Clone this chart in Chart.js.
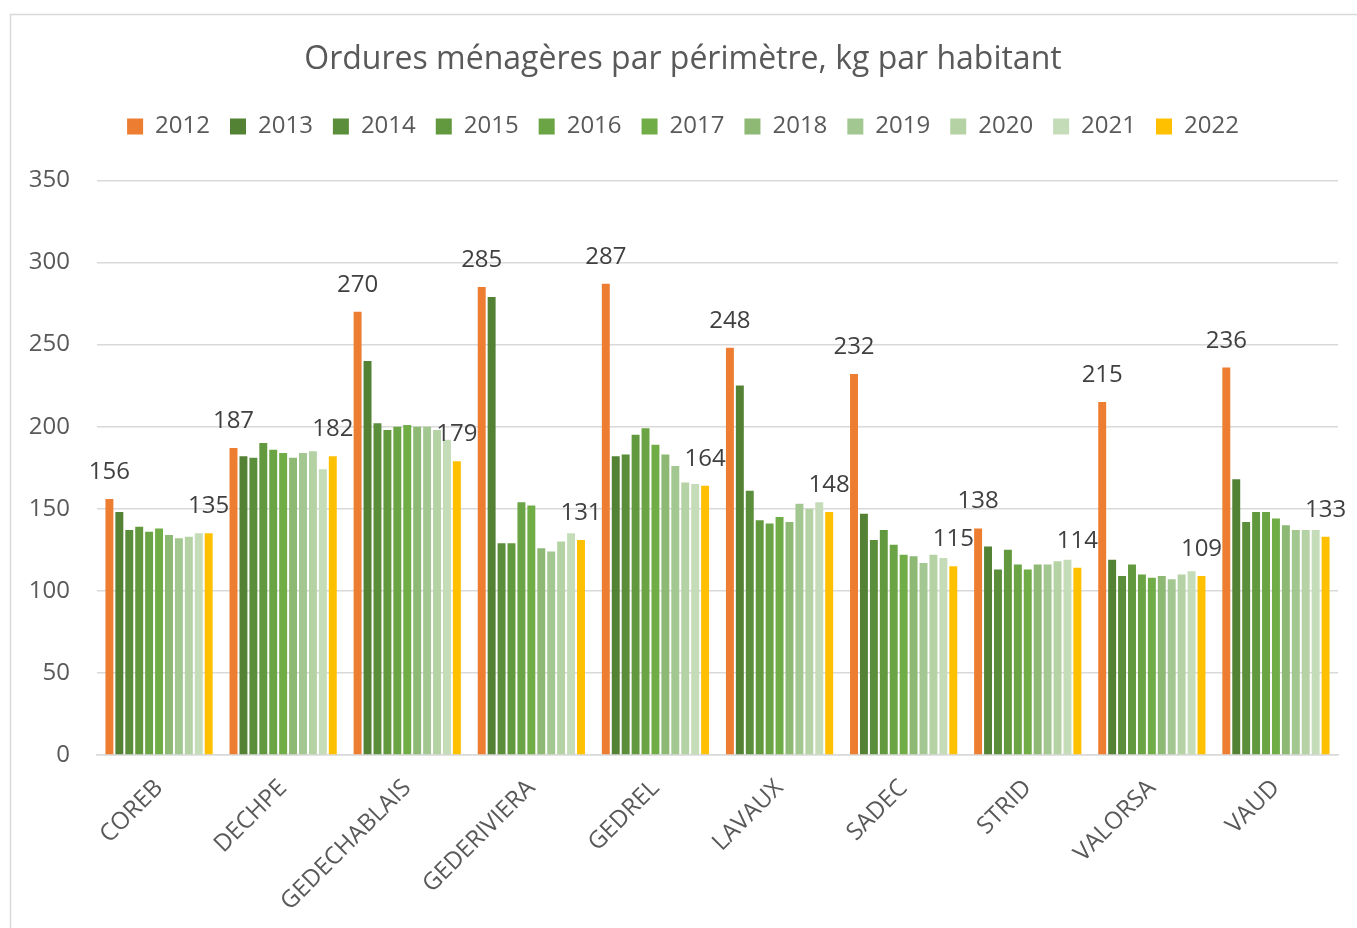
<!DOCTYPE html>
<html>
<head>
<meta charset="utf-8">
<script src="https://cdn.jsdelivr.net/npm/chart.js@4.4.0/dist/chart.umd.min.js"></script>
<style>
  html, body { margin: 0; padding: 0; background: #fff; }
  canvas { display: block; }
</style>
</head>
<body>
<canvas id="chart" width="1357" height="928"></canvas>
<script>
const perimetres = ['COREB', 'DECHPE', 'GEDECHABLAIS', 'GEDERIVIERA', 'GEDREL', 'LAVAUX', 'SADEC', 'STRID', 'VALORSA', 'VAUD']
const years = ['2012', '2013', '2014', '2015', '2016', '2017', '2018', '2019', '2020', '2021', '2022']

const y2012 = [156, 187, 270, 285, 287, 248, 232, 138, 215, 236]
const y2013 = [148, 182, 240, 279, 182, 225, 147, 127, 119, 168]
const y2014 = [137, 181, 202, 129, 183, 161, 131, 113, 109, 142]
const y2015 = [139, 190, 198, 129, 195, 143, 137, 125, 116, 148]
const y2016 = [136, 186, 200, 154, 199, 141, 128, 116, 110, 148]
const y2017 = [138, 184, 201, 152, 189, 145, 122, 113, 108, 144]
const y2018 = [134, 181, 200, 126, 183, 142, 121, 116, 109, 140]
const y2019 = [132, 184, 200, 124, 176, 153, 117, 116, 107, 137]
const y2020 = [133, 185, 198, 130, 166, 150, 122, 118, 110, 137]
const y2021 = [135, 174, 192, 135, 165, 154, 120, 119, 112, 137]
const y2022 = [135, 182, 179, 131, 164, 148, 115, 114, 109, 133]

const yTicks = [0, 50, 100, 150, 200, 250, 300, 350]

const seriesValues = [y2012, y2013, y2014, y2015, y2016, y2017, y2018, y2019, y2020, y2021, y2022]
const colors = ['#ED7D31', '#548235', '#5B8E3A', '#63993E', '#6AA444', '#70AD47',
                '#8DB974', '#A2C791', '#B5D2A5', '#C5DCB9', '#FFC000']
// only first and last year get a value label
const labelledSeries = [0, 10]

const FONT = '"Open Sans", "Noto Sans", sans-serif'
const GREY = '#595959'

const frame = {
    id: 'frame',
    beforeDraw(chart) {
        const { ctx } = chart
        ctx.save()
        ctx.strokeStyle = '#d9d9d9'
        ctx.lineWidth = 1.5
        ctx.strokeRect(10.5, 14.5, 1400, 960)
        ctx.restore()
    }
}

const valueLabels = {
    id: 'valueLabels',
    afterDatasetsDraw(chart) {
        const { ctx } = chart
        ctx.save()
        ctx.font = '24px ' + FONT
        ctx.fillStyle = '#404040'
        ctx.textAlign = 'center'
        ctx.textBaseline = 'alphabetic'
        for (const i of labelledSeries) {
            const meta = chart.getDatasetMeta(i)
            meta.data.forEach((bar, j) => {
                ctx.fillText(String(chart.data.datasets[i].data[j]), bar.x, bar.y - 20)
            })
        }
        ctx.restore()
    }
}

const chart = new Chart(document.getElementById('chart'), {
    type: 'bar',
    data: {
        labels: perimetres,
        datasets: years.map((year, i) => ({
            label: year,
            data: seriesValues[i],
            backgroundColor: colors[i],
            barPercentage: 0.8,
            categoryPercentage: 0.88
        }))
    },
    options: {
        responsive: false,
        animation: false,
        layout: { padding: { left: 28, right: 19, top: 0, bottom: 0 } },
        plugins: {
            title: {
                display: true,
                text: 'Ordures ménagères par périmètre, kg par habitant',
                color: GREY,
                font: { family: FONT, size: 32, weight: 'normal', lineHeight: 1.2 },
                padding: { top: 41, bottom: 15 }
            },
            legend: {
                position: 'top',
                labels: {
                    color: GREY,
                    font: { family: FONT, size: 24 },
                    boxWidth: 16,
                    boxHeight: 16,
                    padding: 20
                }
            },
            // empty spacer between legend and plot
            subtitle: {
                display: true,
                text: '',
                weight: 500,
                font: { size: 1, lineHeight: 1 },
                padding: { top: 0, bottom: 31 }
            },
            tooltip: { enabled: false }
        },
        scales: {
            x: {
                grid: { display: false },
                border: { display: true, color: '#d9d9d9', width: 1.5 },
                ticks: {
                    color: GREY,
                    font: { family: FONT, size: 24 },
                    minRotation: 45,
                    maxRotation: 45,
                    padding: 11
                },
                afterFit(scale) { scale.height = 173 }
            },
            y: {
                min: yTicks[0],
                max: yTicks[yTicks.length - 1],
                grid: { color: '#d9d9d9', lineWidth: 1.5, drawTicks: false },
                border: { display: false },
                ticks: {
                    stepSize: yTicks[1] - yTicks[0],
                    color: GREY,
                    font: { family: FONT, size: 24 },
                    padding: 27
                },
                afterFit(scale) { scale.width = 69 }
            }
        }
    },
    plugins: [frame, valueLabels]
})
</script>
</body>
</html>
